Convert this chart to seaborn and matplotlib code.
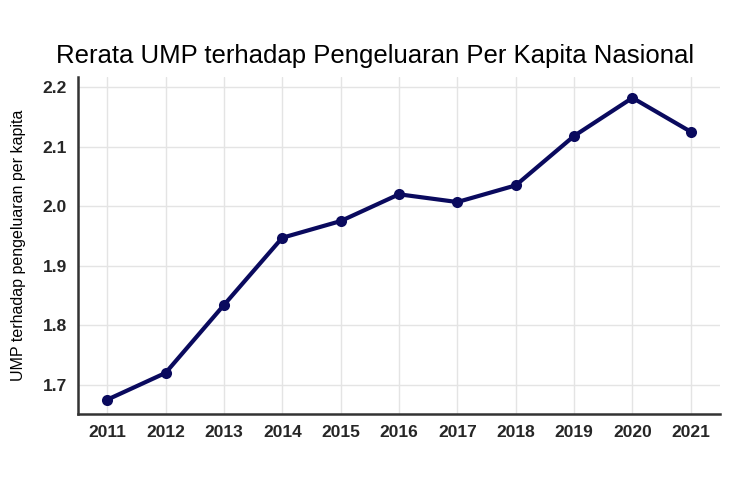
import numpy as np
import pandas as pd
import matplotlib
matplotlib.use("Agg")
import matplotlib.pyplot as plt
import seaborn as sns

# Rerata UMP terhadap pengeluaran per kapita, 2011-2021
years = [2011, 2012, 2013, 2014, 2015, 2016, 2017, 2018, 2019, 2020, 2021]
ratio = [1.675, 1.720, 1.834, 1.947, 1.975, 2.020, 2.007, 2.035, 2.118, 2.182, 2.125]
yticks = [1.7, 1.8, 1.9, 2.0, 2.1, 2.2]

df = pd.DataFrame({"Tahun": years, "Rasio": ratio})

sns.set_style("whitegrid")
plt.rcParams['font.family'] = ['Liberation Sans', 'DejaVu Sans']

fig = plt.figure(figsize=(7.5, 5), dpi=100)
ax = fig.add_axes([0.104, 0.172, 0.856, 0.674])

sns.lineplot(data=df, x="Tahun", y="Rasio", ax=ax, color="#0a0a5e",
             linewidth=3, marker="o", markersize=8, markeredgewidth=0)

ax.set_xlim(2010.5, 2021.5)
ax.set_ylim(1.651, 2.217)
ax.set_xticks(years)
ax.set_yticks(yticks)
ax.set_xticklabels([str(y) for y in years], fontsize=12.5, fontweight="bold", color="#262626")
ax.set_yticklabels([f"{v:.1f}" for v in yticks], fontsize=12.5, fontweight="bold", color="#262626")
ax.tick_params(axis="both", length=0, pad=8)

ax.grid(True, color="#e4e4e4", linewidth=1)
for side in ["top", "right"]:
    ax.spines[side].set_visible(False)
for side in ["left", "bottom"]:
    ax.spines[side].set_visible(True)
    ax.spines[side].set_color("#333333")
    ax.spines[side].set_linewidth(1.8)

ax.set_xlabel("")
ax.set_ylabel("UMP terhadap pengeluaran per kapita", fontsize=11.5, labelpad=12, color="black")
fig.suptitle("Rerata UMP terhadap Pengeluaran Per Kapita Nasional", fontsize=18.5, y=0.912, color="black")

fig.savefig("out.png", dpi=100)
